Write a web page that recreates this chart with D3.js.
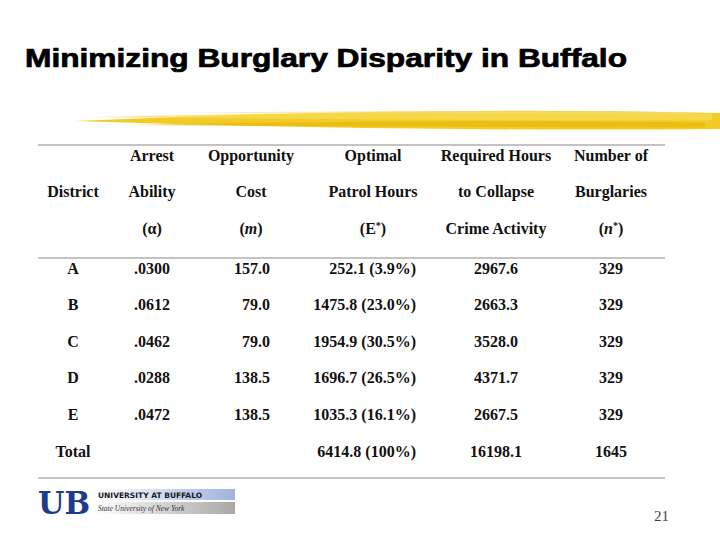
<!DOCTYPE html>
<html>
<head>
<meta charset="utf-8">
<script src="https://cdn.jsdelivr.net/npm/d3@7"></script>
<style>
  body { margin: 0; background: #fff; }
  svg { display: block; }
</style>
</head>
<body>
<div id="chart"></div>
<script>
// table data
var districts = ["A", "B", "C", "D", "E", "Total"];
var arrestAbility = [".0300", ".0612", ".0462", ".0288", ".0472", ""];
var opportunityCost = ["157.0", "79.0", "79.0", "138.5", "138.5", ""];
var optimalHours = ["252.1 (3.9%)", "1475.8 (23.0%)", "1954.9 (30.5%)", "1696.7 (26.5%)", "1035.3 (16.1%)", "6414.8 (100%)"];
var requiredHours = ["2967.6", "2663.3", "3528.0", "4371.7", "2667.5", "16198.1"];
var burglaries = ["329", "329", "329", "329", "329", "1645"];

var headerLine1 = ["", "Arrest", "Opportunity", "Optimal", "Required Hours", "Number of"];
var headerLine2 = ["District", "Ability", "Cost", "Patrol Hours", "to Collapse", "Burglaries"];
var headerLine3 = ["", "(α)", "(m)", "(E*)", "Crime Activity", "(n*)"];

var width = 720, height = 540;

var svg = d3.select("#chart").append("svg")
  .attr("width", width)
  .attr("height", height);

// title
svg.append("text")
  .attr("x", 25)
  .attr("y", 67)
  .attr("font-family", "Liberation Sans, Arial, sans-serif")
  .attr("font-weight", "bold")
  .attr("font-size", 25)
  .attr("textLength", 602)
  .attr("lengthAdjust", "spacingAndGlyphs")
  .attr("fill", "#000")
  .attr("stroke", "#000")
  .attr("stroke-width", 0.7)
  .text("Minimizing Burglary Disparity in Buffalo");

// yellow brush stroke
var brush = svg.append("g");
var strokes = [
  {x0: 75, x1: 720, y: 119, h: 16, c: "#f1c81c", o: 0.95},
  {x0: 95, x1: 712, y: 115, h: 7, c: "#f8dc55", o: 0.7},
  {x0: 130, x1: 705, y: 123, h: 5, c: "#e6b400", o: 0.6},
  {x0: 180, x1: 690, y: 111, h: 2, c: "#f6de78", o: 0.6}
];
strokes.forEach(function (s) {
  var p = d3.path();
  p.moveTo(s.x0, s.y + 2);
  p.quadraticCurveTo((s.x0 + s.x1) / 2, s.y - s.h * 0.8, s.x1, s.y - s.h / 2 + 2);
  p.lineTo(s.x1, s.y + s.h / 2 + 2);
  p.quadraticCurveTo((s.x0 + s.x1) / 2, s.y + s.h * 0.8, s.x0, s.y + 2);
  p.closePath();
  brush.append("path")
    .attr("d", p.toString())
    .attr("fill", s.c)
    .attr("opacity", s.o);
});

// column positions
var colIdx = d3.range(6);
var x = d3.scaleOrdinal()
  .domain(colIdx)
  .range([73, 152, 251, 373, 496, 611]);

var headerY = d3.scalePoint()
  .domain([0, 1, 2])
  .range([155, 228]);

var rowY = d3.scalePoint()
  .domain(districts)
  .range([268, 451]);

var serif = "Liberation Serif, Times New Roman, serif";
var fs = 16;

// rules
var rules = [145, 258, 478];
svg.selectAll(".rule")
  .data(rules)
  .enter().append("line")
  .attr("class", "rule")
  .attr("x1", 38).attr("x2", 665)
  .attr("y1", function (d) { return d; })
  .attr("y2", function (d) { return d; })
  .attr("stroke", "#888")
  .attr("stroke-width", 1.2);

// header
var headers = [headerLine1, headerLine2, headerLine3];
headers.forEach(function (line, li) {
  svg.selectAll(".h" + li)
    .data(line)
    .enter().append("text")
    .attr("class", "h" + li)
    .attr("x", function (d, i) { return x(i); })
    .attr("y", headerY(li))
    .attr("dy", "0.35em")
    .attr("text-anchor", "middle")
    .attr("font-family", serif)
    .attr("font-weight", "bold")
    .attr("font-size", fs)
    .attr("fill", "#111")
    .each(function (d) {
      var t = d3.select(this);
      if (d === "(m)" || d === "(n*)" || d === "(E*)") {
        var sym = d.slice(1, 2);
        t.append("tspan").text("(");
        t.append("tspan").attr("font-style", sym === "E" ? "normal" : "italic").text(sym);
        if (d.indexOf("*") >= 0) {
          t.append("tspan").attr("font-size", 10).attr("dy", "-0.5em").text("*");
          t.append("tspan").attr("dy", "0.32em").text(")");
        } else {
          t.append("tspan").text(")");
        }
      } else {
        t.text(d);
      }
    });
});

// body columns: values, anchor, x offset
var columns = [
  {vals: districts, anchor: "middle", x: 73},
  {vals: arrestAbility, anchor: "middle", x: 152},
  {vals: opportunityCost, anchor: "end", x: 270},
  {vals: optimalHours, anchor: "end", x: 416},
  {vals: requiredHours, anchor: "middle", x: 496},
  {vals: burglaries, anchor: "middle", x: 611}
];

columns.forEach(function (col, ci) {
  svg.selectAll(".c" + ci)
    .data(col.vals)
    .enter().append("text")
    .attr("class", "c" + ci)
    .attr("x", col.x)
    .attr("y", function (d, i) { return rowY(districts[i]); })
    .attr("dy", "0.35em")
    .attr("text-anchor", col.anchor)
    .attr("font-family", serif)
    .attr("font-weight", "bold")
    .attr("font-size", fs)
    .attr("fill", "#111")
    .text(function (d) { return d; });
});

// logo
var logo = svg.append("g");
var defs = svg.append("defs");
var grad = defs.append("linearGradient")
  .attr("id", "band1").attr("x1", 0).attr("x2", 1);
grad.append("stop").attr("offset", 0).attr("stop-color", "#ffffff");
grad.append("stop").attr("offset", 1).attr("stop-color", "#9fb3dd");
var grad2 = defs.append("linearGradient")
  .attr("id", "band2").attr("x1", 0).attr("x2", 1);
grad2.append("stop").attr("offset", 0).attr("stop-color", "#ffffff");
grad2.append("stop").attr("offset", 1).attr("stop-color", "#a8a8a8");

logo.append("rect").attr("x", 95).attr("y", 489).attr("width", 140).attr("height", 11).attr("fill", "url(#band1)");
logo.append("rect").attr("x", 95).attr("y", 502).attr("width", 140).attr("height", 12).attr("fill", "url(#band2)");
logo.append("text").attr("x", 98).attr("y", 498)
  .attr("font-family", "DejaVu Sans, sans-serif").attr("font-weight", "bold")
  .attr("font-size", 7.5).attr("fill", "#1a1a1a").text("UNIVERSITY AT BUFFALO");
logo.append("text").attr("x", 98).attr("y", 511)
  .attr("font-family", serif).attr("font-style", "italic")
  .attr("font-size", 7.5).attr("fill", "#333").text("State University of New York");
logo.append("text").attr("x", 38).attr("y", 514)
  .attr("font-family", "DejaVu Serif, serif").attr("font-weight", "bold")
  .attr("font-size", 32).attr("fill", "#1e3c8c")
  .attr("textLength", 52).attr("lengthAdjust", "spacingAndGlyphs")
  .text("UB");

// page number
svg.append("text")
  .attr("x", 669)
  .attr("y", 521)
  .attr("text-anchor", "end")
  .attr("font-family", serif)
  .attr("font-size", 15)
  .attr("fill", "#444")
  .text("21");
</script>
</body>
</html>
